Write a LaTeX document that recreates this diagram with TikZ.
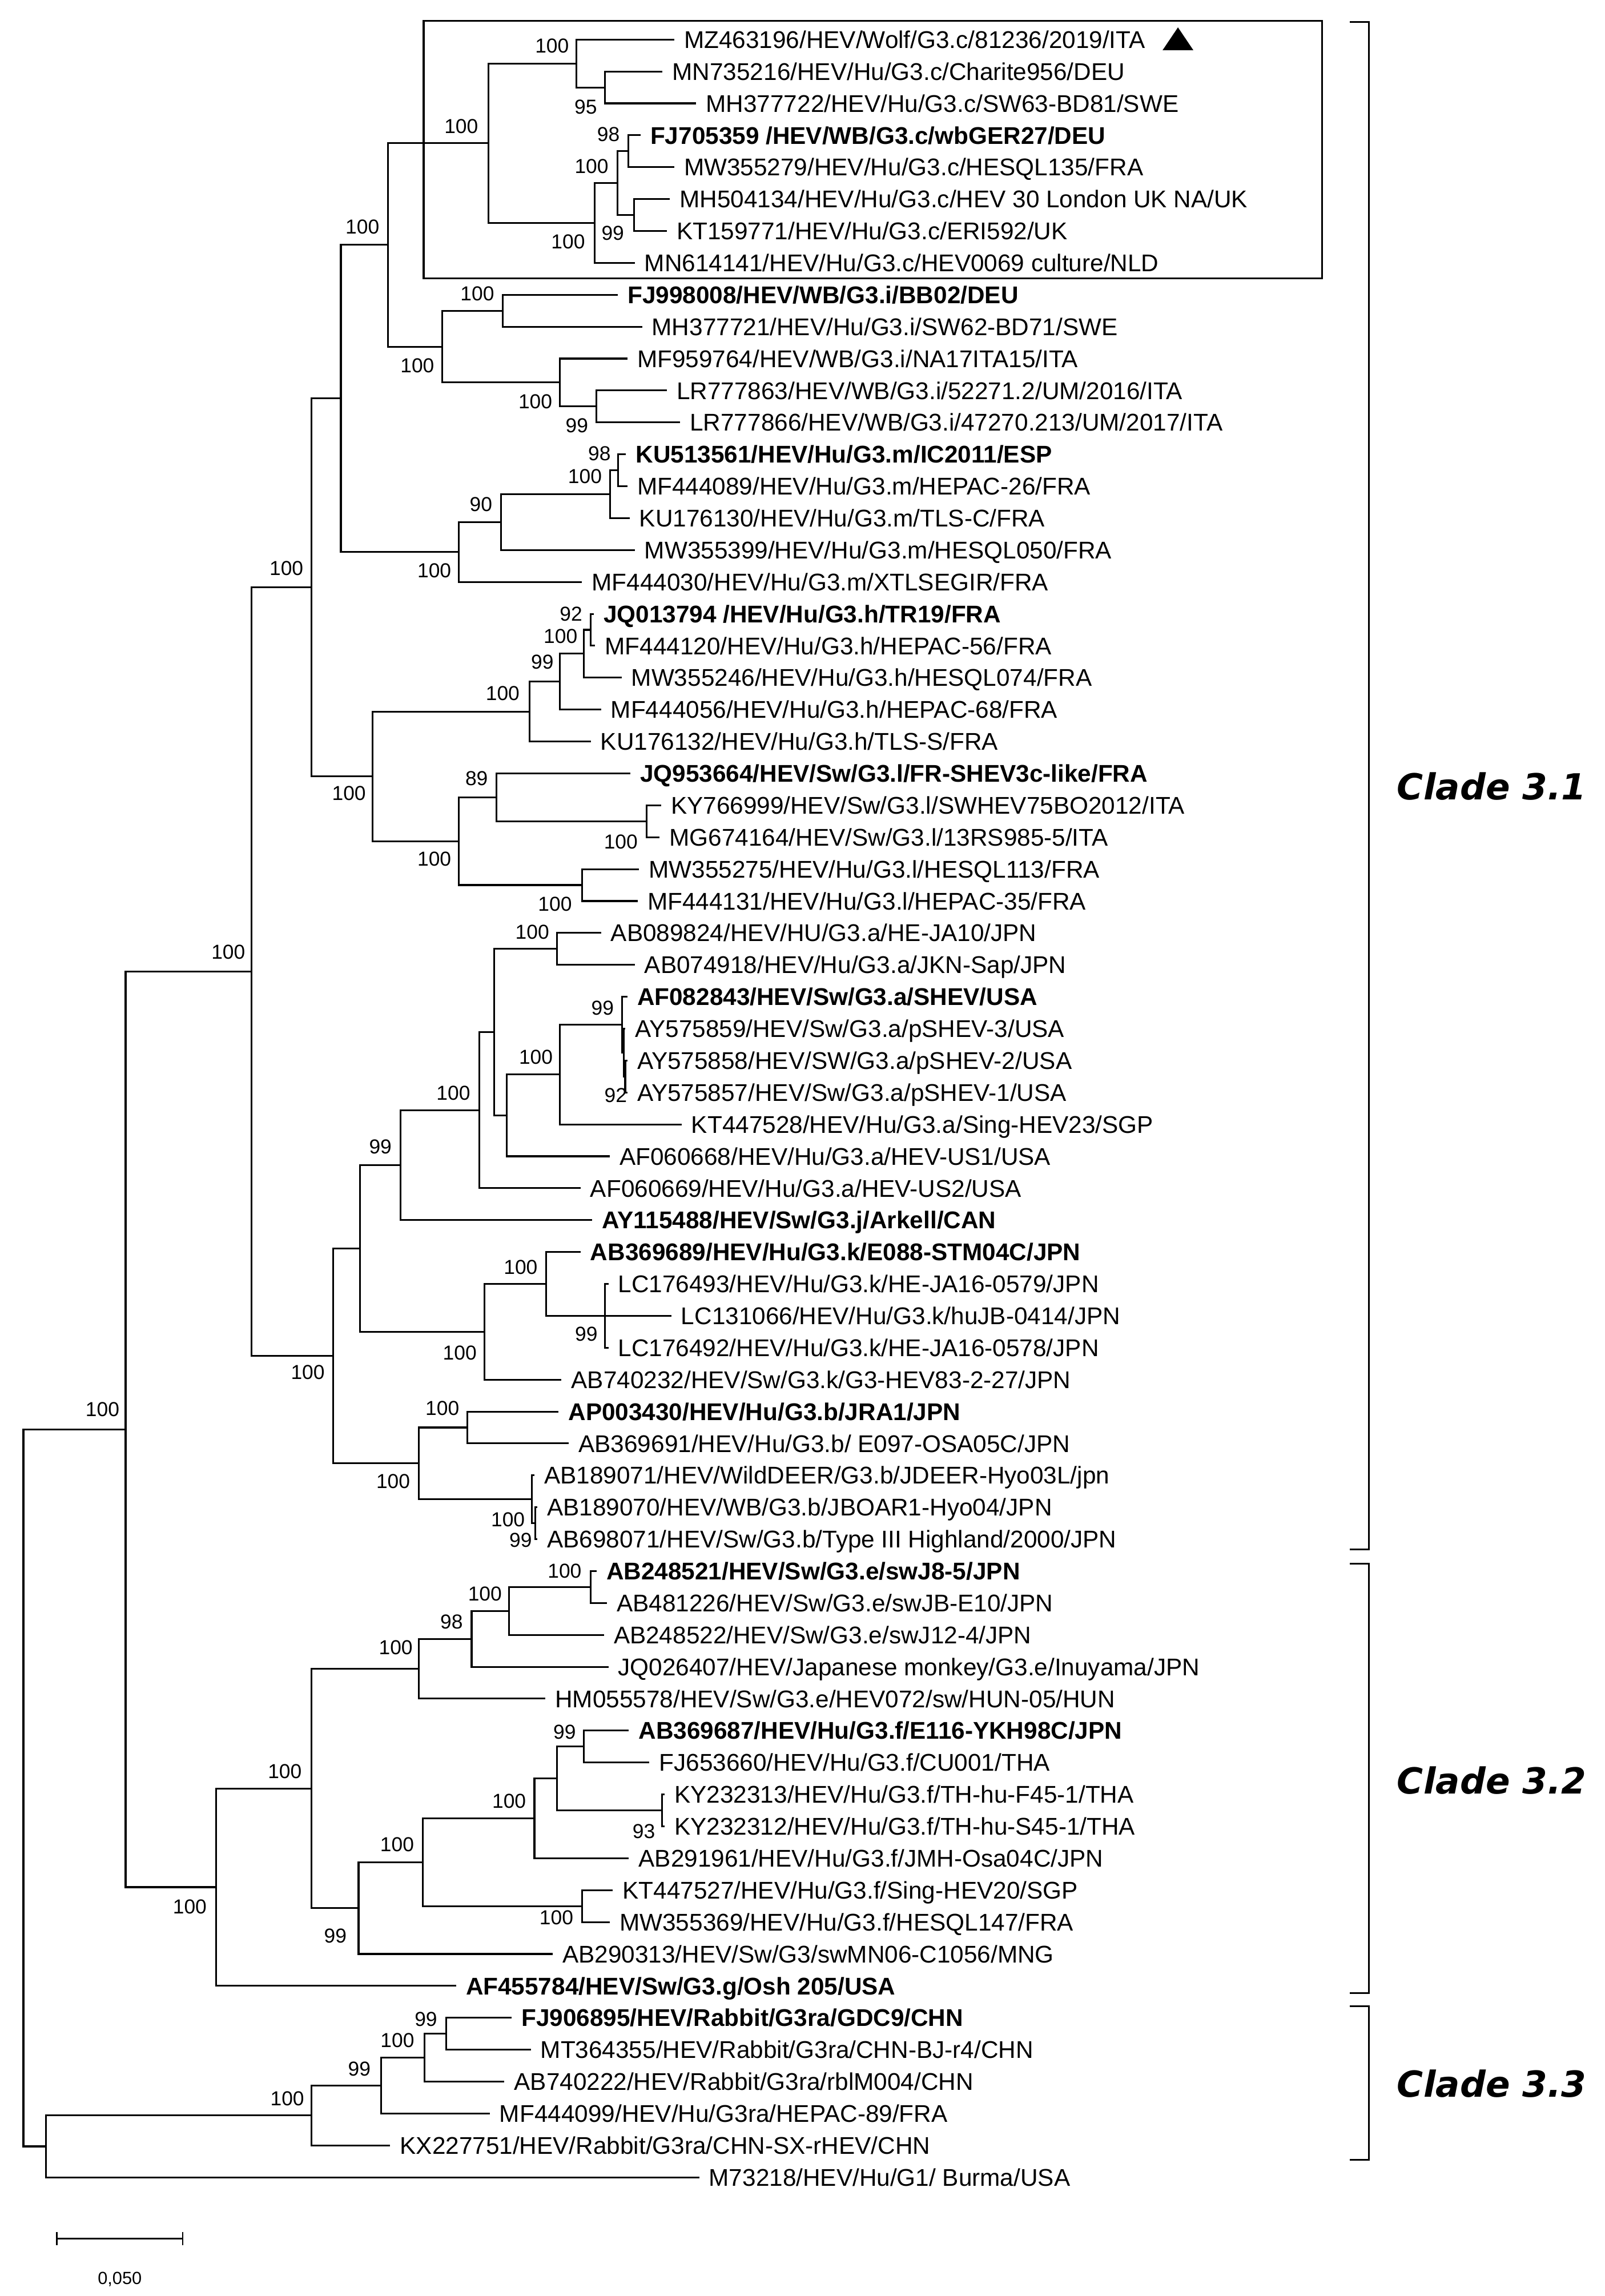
\documentclass[tikz,border=0pt]{standalone}
\usepackage{fontspec}
\setmainfont{Liberation Sans}
\newfontfamily\cladefont{DejaVu Sans}
\usetikzlibrary{positioning}

% leaf rows: y of row i
\newcommand{\rowy}[1]{5.21+21.79*#1}

\tikzset{
  leaf/.style={anchor=west, inner xsep=6.5pt, inner ysep=0pt, text height=11.8pt, text depth=0pt, font=\fontsize{16.5}{18}\selectfont},
  bleaf/.style={leaf, font=\fontsize{16.5}{18}\selectfont\bfseries},
  boot/.style={inner sep=0pt, text height=9.9pt, text depth=0pt, font=\fontsize{13.8}{15}\selectfont},
  branch/.style={line width=1.2pt},
  clade/.style={anchor=west, inner sep=0pt, font=\cladefont\fontsize{24.5}{26}\selectfont\bfseries\itshape},
}

\begin{document}
\begin{tikzpicture}[x=1pt, y=-1pt]
\useasboundingbox (0,0) rectangle (1096,1568);

% leaves
\node[leaf]  (MZ463196) at (460.5,{\rowy{1}}) {MZ463196/HEV/Wolf/G3.c/81236/2019/ITA};
\node[leaf]  (MN735216) at (452.5,{\rowy{2}}) {MN735216/HEV/Hu/G3.c/Charite956/DEU};
\node[leaf]  (MH377722) at (475.5,{\rowy{3}}) {MH377722/HEV/Hu/G3.c/SW63-BD81/SWE};
\node[bleaf] (FJ705359) at (437.5,{\rowy{4}}) {FJ705359 /HEV/WB/G3.c/wbGER27/DEU};
\node[leaf]  (MW355279) at (460.5,{\rowy{5}}) {MW355279/HEV/Hu/G3.c/HESQL135/FRA};
\node[leaf]  (MH504134) at (457.5,{\rowy{6}}) {MH504134/HEV/Hu/G3.c/HEV 30 London UK NA/UK};
\node[leaf]  (KT159771) at (455.5,{\rowy{7}}) {KT159771/HEV/Hu/G3.c/ERI592/UK};
\node[leaf]  (MN614141) at (433.5,{\rowy{8}}) {MN614141/HEV/Hu/G3.c/HEV0069 culture/NLD};
\node[bleaf] (FJ998008) at (422,{\rowy{9}}) {FJ998008/HEV/WB/G3.i/BB02/DEU};
\node[leaf]  (MH377721) at (438.5,{\rowy{10}}) {MH377721/HEV/Hu/G3.i/SW62-BD71/SWE};
\node[leaf]  (MF959764) at (428.5,{\rowy{11}}) {MF959764/HEV/WB/G3.i/NA17ITA15/ITA};
\node[leaf]  (LR777863) at (455.5,{\rowy{12}}) {LR777863/HEV/WB/G3.i/52271.2/UM/2016/ITA};
\node[leaf]  (LR777866) at (464.5,{\rowy{13}}) {LR777866/HEV/WB/G3.i/47270.213/UM/2017/ITA};
\node[bleaf] (KU513561) at (427.5,{\rowy{14}}) {KU513561/HEV/Hu/G3.m/IC2011/ESP};
\node[leaf]  (MF444089) at (428.5,{\rowy{15}}) {MF444089/HEV/Hu/G3.m/HEPAC-26/FRA};
\node[leaf]  (KU176130) at (430,{\rowy{16}}) {KU176130/HEV/Hu/G3.m/TLS-C/FRA};
\node[leaf]  (MW355399) at (433.5,{\rowy{17}}) {MW355399/HEV/Hu/G3.m/HESQL050/FRA};
\node[leaf]  (MF444030) at (397.5,{\rowy{18}}) {MF444030/HEV/Hu/G3.m/XTLSEGIR/FRA};
\node[bleaf] (JQ013794) at (405.5,{\rowy{19}}) {JQ013794 /HEV/Hu/G3.h/TR19/FRA};
\node[leaf]  (MF444120) at (406.5,{\rowy{20}}) {MF444120/HEV/Hu/G3.h/HEPAC-56/FRA};
\node[leaf]  (MW355246) at (424.5,{\rowy{21}}) {MW355246/HEV/Hu/G3.h/HESQL074/FRA};
\node[leaf]  (MF444056) at (410.5,{\rowy{22}}) {MF444056/HEV/Hu/G3.h/HEPAC-68/FRA};
\node[leaf]  (KU176132) at (403.5,{\rowy{23}}) {KU176132/HEV/Hu/G3.h/TLS-S/FRA};
\node[bleaf] (JQ953664) at (430.5,{\rowy{24}}) {JQ953664/HEV/Sw/G3.l/FR-SHEV3c-like/FRA};
\node[leaf]  (KY766999) at (451.5,{\rowy{25}}) {KY766999/HEV/Sw/G3.l/SWHEV75BO2012/ITA};
\node[leaf]  (MG674164) at (450.5,{\rowy{26}}) {MG674164/HEV/Sw/G3.l/13RS985-5/ITA};
\node[leaf]  (MW355275) at (436.5,{\rowy{27}}) {MW355275/HEV/Hu/G3.l/HESQL113/FRA};
\node[leaf]  (MF444131) at (435.5,{\rowy{28}}) {MF444131/HEV/Hu/G3.l/HEPAC-35/FRA};
\node[leaf]  (AB089824) at (410.5,{\rowy{29}}) {AB089824/HEV/HU/G3.a/HE-JA10/JPN};
\node[leaf]  (AB074918) at (433.5,{\rowy{30}}) {AB074918/HEV/Hu/G3.a/JKN-Sap/JPN};
\node[bleaf] (AF082843) at (428.5,{\rowy{31}}) {AF082843/HEV/Sw/G3.a/SHEV/USA};
\node[leaf]  (AY575859) at (427,{\rowy{32}}) {AY575859/HEV/Sw/G3.a/pSHEV-3/USA};
\node[leaf]  (AY575858) at (428.5,{\rowy{33}}) {AY575858/HEV/SW/G3.a/pSHEV-2/USA};
\node[leaf]  (AY575857) at (428.5,{\rowy{34}}) {AY575857/HEV/Sw/G3.a/pSHEV-1/USA};
\node[leaf]  (KT447528) at (465.5,{\rowy{35}}) {KT447528/HEV/Hu/G3.a/Sing-HEV23/SGP};
\node[leaf]  (AF060668) at (416.5,{\rowy{36}}) {AF060668/HEV/Hu/G3.a/HEV-US1/USA};
\node[leaf]  (AF060669) at (396.5,{\rowy{37}}) {AF060669/HEV/Hu/G3.a/HEV-US2/USA};
\node[bleaf] (AY115488) at (404.5,{\rowy{38}}) {AY115488/HEV/Sw/G3.j/Arkell/CAN};
\node[bleaf] (AB369689) at (396.5,{\rowy{39}}) {AB369689/HEV/Hu/G3.k/E088-STM04C/JPN};
\node[leaf]  (LC176493) at (415.5,{\rowy{40}}) {LC176493/HEV/Hu/G3.k/HE-JA16-0579/JPN};
\node[leaf]  (LC131066) at (458.5,{\rowy{41}}) {LC131066/HEV/Hu/G3.k/huJB-0414/JPN};
\node[leaf]  (LC176492) at (415.5,{\rowy{42}}) {LC176492/HEV/Hu/G3.k/HE-JA16-0578/JPN};
\node[leaf]  (AB740232) at (383.5,{\rowy{43}}) {AB740232/HEV/Sw/G3.k/G3-HEV83-2-27/JPN};
\node[bleaf] (AP003430) at (381.5,{\rowy{44}}) {AP003430/HEV/Hu/G3.b/JRA1/JPN};
\node[leaf]  (AB369691) at (388.5,{\rowy{45}}) {AB369691/HEV/Hu/G3.b/ E097-OSA05C/JPN};
\node[leaf]  (AB189071) at (365,{\rowy{46}}) {AB189071/HEV/WildDEER/G3.b/JDEER-Hyo03L/jpn};
\node[leaf]  (AB189070) at (367,{\rowy{47}}) {AB189070/HEV/WB/G3.b/JBOAR1-Hyo04/JPN};
\node[leaf]  (AB698071) at (367,{\rowy{48}}) {AB698071/HEV/Sw/G3.b/Type III Highland/2000/JPN};
\node[bleaf] (AB248521) at (407.5,{\rowy{49}}) {AB248521/HEV/Sw/G3.e/swJ8-5/JPN};
\node[leaf]  (AB481226) at (414.5,{\rowy{50}}) {AB481226/HEV/Sw/G3.e/swJB-E10/JPN};
\node[leaf]  (AB248522) at (412.5,{\rowy{51}}) {AB248522/HEV/Sw/G3.e/swJ12-4/JPN};
\node[leaf]  (JQ026407) at (415.5,{\rowy{52}}) {JQ026407/HEV/Japanese monkey/G3.e/Inuyama/JPN};
\node[leaf]  (HM055578) at (372.5,{\rowy{53}}) {HM055578/HEV/Sw/G3.e/HEV072/sw/HUN-05/HUN};
\node[bleaf] (AB369687) at (429.5,{\rowy{54}}) {AB369687/HEV/Hu/G3.f/E116-YKH98C/JPN};
\node[leaf]  (FJ653660) at (443.5,{\rowy{55}}) {FJ653660/HEV/Hu/G3.f/CU001/THA};
\node[leaf]  (KY232313) at (454,{\rowy{56}}) {KY232313/HEV/Hu/G3.f/TH-hu-F45-1/THA};
\node[leaf]  (KY232312) at (454,{\rowy{57}}) {KY232312/HEV/Hu/G3.f/TH-hu-S45-1/THA};
\node[leaf]  (AB291961) at (429.5,{\rowy{58}}) {AB291961/HEV/Hu/G3.f/JMH-Osa04C/JPN};
\node[leaf]  (KT447527) at (418.5,{\rowy{59}}) {KT447527/HEV/Hu/G3.f/Sing-HEV20/SGP};
\node[leaf]  (MW355369) at (416.5,{\rowy{60}}) {MW355369/HEV/Hu/G3.f/HESQL147/FRA};
\node[leaf]  (AB290313) at (377.5,{\rowy{61}}) {AB290313/HEV/Sw/G3/swMN06-C1056/MNG};
\node[bleaf] (AF455784) at (311.5,{\rowy{62}}) {AF455784/HEV/Sw/G3.g/Osh 205/USA};
\node[bleaf] (FJ906895) at (349.5,{\rowy{63}}) {FJ906895/HEV/Rabbit/G3ra/GDC9/CHN};
\node[leaf]  (MT364355) at (362.5,{\rowy{64}}) {MT364355/HEV/Rabbit/G3ra/CHN-BJ-r4/CHN};
\node[leaf]  (AB740222) at (344.5,{\rowy{65}}) {AB740222/HEV/Rabbit/G3ra/rblM004/CHN};
\node[leaf]  (MF444099) at (334.5,{\rowy{66}}) {MF444099/HEV/Hu/G3ra/HEPAC-89/FRA};
\node[leaf]  (KX227751) at (266.5,{\rowy{67}}) {KX227751/HEV/Rabbit/G3ra/CHN-SX-rHEV/CHN};
\node[leaf]  (M73218)   at (477.5,{\rowy{68}}) {M73218/HEV/Hu/G1/ Burma/USA};

% inner nodes
\coordinate (root) at (16,{\rowy{55.795}});
\coordinate (R)   at (85.8,{\rowy{44.56}});
\coordinate (S)   at (171.6,{\rowy{30.214}});
\coordinate (Q)   at (212.8,{\rowy{18.172}});
\coordinate (P0)  at (232.8,{\rowy{12.25}});
\coordinate (P1)  at (264.9,{\rowy{7.4375}});
\coordinate (c1)  at (333.5,{\rowy{4.25}});
\coordinate (c2)  at (393.6,{\rowy{1.75}});
\coordinate (c3)  at (413.1,{\rowy{2.5}});
\coordinate (c4)  at (406.2,{\rowy{6.75}});
\coordinate (c5)  at (421.6,{\rowy{5.5}});
\coordinate (c6)  at (429.1,{\rowy{4.5}});
\coordinate (c7)  at (433.1,{\rowy{6.5}});
\coordinate (i1)  at (302,{\rowy{10.625}});
\coordinate (i2)  at (343.3,{\rowy{9.5}});
\coordinate (i3)  at (382.2,{\rowy{11.75}});
\coordinate (i4)  at (407.3,{\rowy{12.5}});
\coordinate (m1)  at (313.5,{\rowy{17.0625}});
\coordinate (m2)  at (342.1,{\rowy{16.125}});
\coordinate (m3)  at (416.5,{\rowy{15.25}});
\coordinate (m4)  at (422,{\rowy{14.5}});
\coordinate (HL)  at (254.6,{\rowy{24.094}});
\coordinate (h1)  at (361.6,{\rowy{22.0625}});
\coordinate (h2)  at (382.2,{\rowy{21.125}});
\coordinate (h3)  at (398.7,{\rowy{20.25}});
\coordinate (h4)  at (403.3,{\rowy{19.5}});
\coordinate (l1)  at (313.5,{\rowy{26.125}});
\coordinate (l2)  at (339.2,{\rowy{24.75}});
\coordinate (l3)  at (441.7,{\rowy{25.5}});
\coordinate (l5)  at (397.6,{\rowy{27.5}});
\coordinate (T)   at (227.7,{\rowy{42.257}});
\coordinate (U)   at (246,{\rowy{38.889}});
\coordinate (a1)  at (273.5,{\rowy{36.277}});
\coordinate (a2)  at (327.2,{\rowy{34.555}});
\coordinate (a3)  at (337.5,{\rowy{32.109}});
\coordinate (a4)  at (380.4,{\rowy{29.5}});
\coordinate (a6)  at (346.1,{\rowy{34.719}});
\coordinate (a7)  at (382.2,{\rowy{33.4375}});
\coordinate (a8)  at (425,{\rowy{31.875}});
\coordinate (a9)  at (426,{\rowy{32.75}});
\coordinate (a10) at (427,{\rowy{33.5}});
\coordinate (k1)  at (330.7,{\rowy{41.5}});
\coordinate (k2)  at (373,{\rowy{40}});
\coordinate (k3)  at (413,{\rowy{41}});
\coordinate (b1)  at (286,{\rowy{45.625}});
\coordinate (b2)  at (319.2,{\rowy{44.5}});
\coordinate (b3)  at (363.3,{\rowy{46.75}});
\coordinate (b4)  at (365.5,{\rowy{47.5}});
\coordinate (G32) at (147.6,{\rowy{58.906}});
\coordinate (ef)  at (212.8,{\rowy{55.8125}});
\coordinate (e0)  at (286,{\rowy{52.0625}});
\coordinate (e1)  at (322.1,{\rowy{51.125}});
\coordinate (e2)  at (347.8,{\rowy{50.25}});
\coordinate (e3)  at (403.3,{\rowy{49.5}});
\coordinate (f0)  at (244.9,{\rowy{59.5625}});
\coordinate (f1)  at (288.9,{\rowy{58.125}});
\coordinate (f2)  at (365,{\rowy{56.75}});
\coordinate (f3)  at (380.4,{\rowy{55.5}});
\coordinate (f4)  at (398.8,{\rowy{54.5}});
\coordinate (f5)  at (452,{\rowy{56.5}});
\coordinate (f6)  at (397.6,{\rowy{59.5}});
\coordinate (B)   at (31.5,{\rowy{67.031}});
\coordinate (r1)  at (212.7,{\rowy{66.0625}});
\coordinate (r2)  at (260.2,{\rowy{65.125}});
\coordinate (r3)  at (290,{\rowy{64.25}});
\coordinate (r4)  at (304.8,{\rowy{63.5}});

% branches
\foreach \a/\b in {root/R, root/B, R/S, R/G32, S/Q, S/T, Q/P0, Q/HL, P0/P1, P0/m1,
  P1/c1, P1/i1, c1/c2, c1/c4, c2/MZ463196.west, c2/c3, c3/MN735216.west, c3/MH377722.west,
  c4/c5, c4/MN614141.west, c5/c6, c5/c7, c6/FJ705359.west, c6/MW355279.west,
  c7/MH504134.west, c7/KT159771.west,
  i1/i2, i1/i3, i2/FJ998008.west, i2/MH377721.west, i3/MF959764.west, i3/i4,
  i4/LR777863.west, i4/LR777866.west,
  m1/m2, m1/MF444030.west, m2/m3, m2/MW355399.west, m3/m4, m3/KU176130.west,
  m4/KU513561.west, m4/MF444089.west,
  HL/h1, HL/l1, h1/h2, h1/KU176132.west, h2/h3, h2/MF444056.west, h3/h4, h3/MW355246.west,
  h4/JQ013794.west, h4/MF444120.west,
  l1/l2, l1/l5, l2/JQ953664.west, l2/l3, l3/KY766999.west, l3/MG674164.west,
  l5/MW355275.west, l5/MF444131.west,
  T/U, T/b1, U/a1, U/k1, a1/a2, a1/AY115488.west, a2/a3, a2/AF060669.west,
  a3/a4, a3/a6, a4/AB089824.west, a4/AB074918.west, a6/a7, a6/AF060668.west,
  a7/a8, a7/KT447528.west, a8/AF082843.west, a8/a9, a9/AY575859.west, a9/a10,
  a10/AY575858.west, a10/AY575857.west,
  k1/k2, k1/AB740232.west, k2/AB369689.west, k2/k3,
  k3/LC176493.west, k3/LC131066.west, k3/LC176492.west,
  b1/b2, b1/b3, b2/AP003430.west, b2/AB369691.west, b3/AB189071.west, b3/b4,
  b4/AB189070.west, b4/AB698071.west,
  G32/ef, G32/AF455784.west, ef/e0, ef/f0, e0/e1, e0/HM055578.west,
  e1/e2, e1/JQ026407.west, e2/e3, e2/AB248522.west, e3/AB248521.west, e3/AB481226.west,
  f0/f1, f0/AB290313.west, f1/f2, f1/f6, f2/f3, f2/AB291961.west, f3/f4, f3/f5,
  f4/AB369687.west, f4/FJ653660.west, f5/KY232313.west, f5/KY232312.west,
  f6/KT447527.west, f6/MW355369.west,
  B/r1, B/M73218.west, r1/r2, r1/KX227751.west, r2/r3, r2/MF444099.west,
  r3/r4, r3/AB740222.west, r4/FJ906895.west, r4/MT364355.west}
  \draw[branch] (\a) |- (\b);

% bootstrap values
\foreach \x/\y/\t [count=\i] in {377/31.3/100, 400/72.8/95, 315/86/100, 415.5/91.5/98,
  404/113.5/100, 418.5/159/99, 388/165/100, 247.5/154.8/100, 326/200.5/100,
  285/249.5/100, 365.6/274.2/100, 394/290.6/99, 409.4/309.5/98, 399.5/325/100,
  328.5/344.2/90, 296.6/389.5/100, 195.6/388/100, 390/419/92, 382.8/434.5/100,
  370.4/452/99, 343.3/473.4/100, 325.5/531.6/89, 238.3/541.6/100, 424/574.7/100,
  296.6/586.5/100, 379/617.1/100, 363.5/636.4/100, 155.9/650/100, 411.5/688/99,
  366/721.6/100, 309.6/746.1/100, 420.5/747.7/92, 259.8/783/99, 355.6/865.4/100,
  400.4/910.8/99, 314/923.6/100, 210.2/937/100, 302.1/961.5/100, 268.5/1011.5/100,
  346.9/1037.5/100, 355.6/1051.6/99, 70/962.4/100, 385.6/1072.7/100, 331.2/1088.4/100,
  308.4/1107.3/98, 270.3/1125/100, 385.6/1182.5/99, 194.5/1209.7/100, 347.7/1230/100,
  439.7/1250.3/93, 271.2/1259.6/100, 129.6/1302/100, 380/1309.5/100, 229/1321.7/99,
  290.9/1378.6/99, 271.4/1393.3/100, 245.4/1412.9/99, 196.2/1433.1/100}
  \node[boot] (bs\i) at (\x,\y) {\t};

% box round G3.c and the marked strain
\draw[line width=1.3pt] (289.4,14.2) rectangle (903,190);
\fill (794,34.3) -- (815,34.3) -- (804.5,18.7) -- cycle;

% clades
\draw[line width=1.3pt] (922,15) -- (935,15) -- (935,1058) -- (922,1058);
\draw[line width=1.3pt] (922,1068) -- (935,1068) -- (935,1361) -- (922,1361);
\draw[line width=1.3pt] (922,1370) -- (935,1370) -- (935,1475) -- (922,1475);
\coordinate (k31) at (935,537);
\coordinate (k32) at (935,1216);
\coordinate (k33) at (935,1423);
\node[clade, right=19pt of k31] (clade31) {Clade 3.1};
\node[clade, right=19pt of k32] (clade32) {Clade 3.2};
\node[clade, right=19pt of k33] (clade33) {Clade 3.3};

% scale bar
\coordinate (sb1) at (38.9,1528.9);
\coordinate (sb2) at (124.7,1528.9);
\draw[line width=1.2pt] (sb1) -- (sb2);
\draw[line width=1pt] ([yshift=-4.4pt]sb1) -- ([yshift=4.4pt]sb1);
\draw[line width=1pt] ([yshift=-4.4pt]sb2) -- ([yshift=4.4pt]sb2);
\node[inner sep=0pt, font=\fontsize{12}{13}\selectfont] (sblabel) at (81.8,1556.5) {0,050};
\end{tikzpicture}
\end{document}
